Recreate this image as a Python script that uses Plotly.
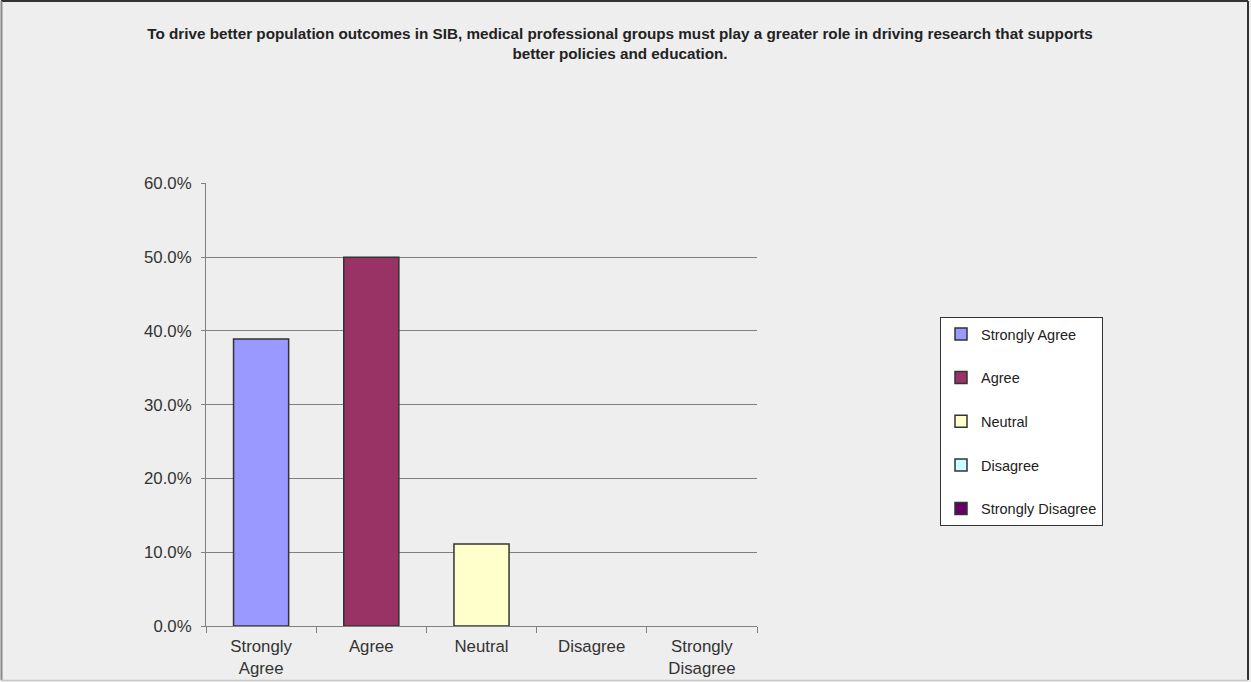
import plotly.graph_objects as go

# Survey responses
categories = ["Strongly Agree", "Agree", "Neutral", "Disagree", "Strongly Disagree"]
tick_labels = ["Strongly<br>Agree", "Agree", "Neutral", "Disagree", "Strongly<br>Disagree"]
shares = [0.389, 0.500, 0.111, 0.0, 0.0]
bar_colors = ["#9999FF", "#993366", "#FFFFCC", "#CCFFFF", "#660066"]

title_text = ("To drive better population outcomes in SIB, medical professional groups must play a greater role in driving research that supports"
              "<br>better policies and education.")

W, H = 1251, 682
ML, MR, MT, MB = 206, W - 757, 183, H - 626
PW, PH = W - ML - MR, H - MT - MB

BG = "#EEEEEE"
FONT = "Liberation Sans, Arial, sans-serif"

fig = go.Figure()
for i, (cat, val, col) in enumerate(zip(categories, shares, bar_colors)):
    fig.add_trace(go.Bar(
        x=[cat],
        # a 0% share has no bar at all (not even an outline on the baseline)
        y=[val if val > 0 else None],
        name=cat,
        marker=dict(color=col, line=dict(color="#333333", width=1.5)),
        width=0.5, legendgroup=f"g{i}",
        hovertemplate="%{x}: %{y:.1%}<extra></extra>",
    ))

def px_x(p):
    return (p - ML) / PW

def px_y(p):
    return (H - MB - p) / PH

# outer frame
fig.add_shape(type="line", xref="paper", yref="paper", x0=px_x(1), x1=px_x(1248), y0=px_y(1), y1=px_y(1),
              line=dict(color="#333333", width=2))
fig.add_shape(type="line", xref="paper", yref="paper", x0=px_x(1248), x1=px_x(1248), y0=px_y(1), y1=px_y(680),
              line=dict(color="#333333", width=2))
fig.add_shape(type="line", xref="paper", yref="paper", x0=px_x(1.5), x1=px_x(1.5), y0=px_y(1), y1=px_y(680),
              line=dict(color="#888888", width=2))
fig.add_shape(type="line", xref="paper", yref="paper", x0=px_x(1), x1=px_x(1248), y0=px_y(680.5), y1=px_y(680.5),
              line=dict(color="#C8C8C8", width=1.5))

fig.update_layout(
    width=W, height=H,
    margin=dict(l=ML, r=MR, t=MT, b=MB, autoexpand=False),
    paper_bgcolor=BG, plot_bgcolor=BG,
    barmode="overlay",
    font=dict(family=FONT, color="#333333"),
    title=dict(text=title_text, x=620 / W, xanchor="center", xref="container",
               y=1 - 39 / H, yanchor="middle", yref="container",
               font=dict(family=FONT, size=15.25, color="#222222", weight="bold")),
    showlegend=True,
    legend=dict(x=px_x(940), xanchor="left", y=px_y(317), yanchor="top",
                bgcolor="#FFFFFF", bordercolor="#333333", borderwidth=1,
                font=dict(family=FONT, size=14.5, color="#222222"),
                tracegroupgap=21.8, traceorder="grouped"),
    xaxis=dict(type="category", categoryorder="array", categoryarray=categories,
               tickvals=categories, ticktext=tick_labels,
               showline=True, linecolor="#808080", linewidth=1,
               ticks="outside", tickson="boundaries", ticklen=6, tickcolor="#808080",
               ticklabelstandoff=5, automargin=False,
               tickfont=dict(family=FONT, size=16.8, color="#333333"),
               showgrid=False, range=[-0.5, 4.5], fixedrange=True),
    yaxis=dict(range=[0, 0.6005], dtick=0.1, tickformat=".1%",
               showline=True, linecolor="#808080", linewidth=1,
               ticks="outside", ticklen=4, tickcolor="#808080",
               ticklabelstandoff=6, automargin=False,
               showgrid=True, gridcolor="#808080", gridwidth=1,
               zeroline=False,
               tickfont=dict(family=FONT, size=16.8, color="#333333"),
               fixedrange=True),
)

fig.write_html("out.html")
